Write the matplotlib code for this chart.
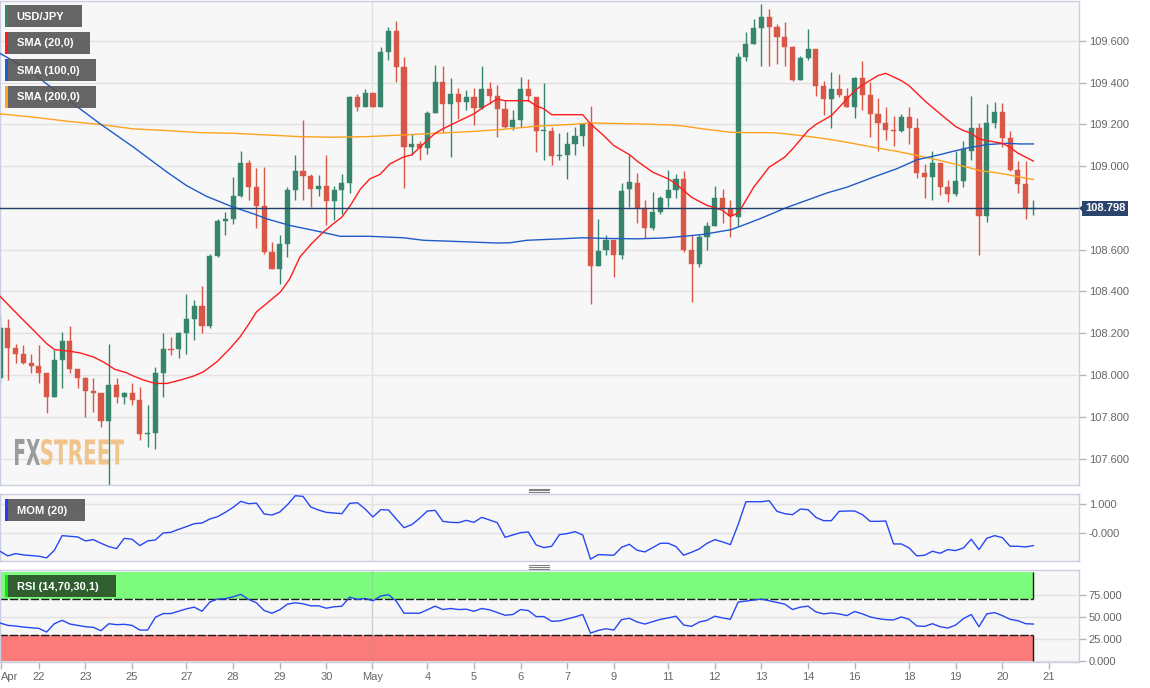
import matplotlib
matplotlib.use("Agg")
import matplotlib.pyplot as plt
import numpy as np
from matplotlib.patches import Rectangle, PathPatch, Polygon
from matplotlib.textpath import TextPath
from matplotlib.font_manager import FontProperties
from matplotlib.transforms import Affine2D, IdentityTransform, blended_transform_factory
from matplotlib.lines import Line2D

plt.rcParams['font.family'] = ['Liberation Sans', 'DejaVu Sans']

# ---------------- data (4h candles USD/JPY) ----------------
opens = [107.984,108.223,108.130,108.100,108.060,108.044,108.008,107.896,108.074,108.164,
         108.031,107.988,107.925,107.915,107.781,107.952,107.896,107.915,107.883,107.718,
         107.721,108.011,108.127,108.127,108.199,108.270,108.329,108.234,108.568,108.737,
         108.748,108.859,109.016,108.899,108.808,108.589,108.509,108.629,108.887,108.976,
         108.952,108.890,108.906,108.831,108.887,108.918,109.329,109.285,109.352,109.285,
         109.544,109.648,109.473,109.090,109.106,109.087,109.254,109.404,109.297,109.345,
         109.305,109.329,109.278,109.367,109.334,109.274,109.189,109.221,109.369,109.329,
         109.167,109.170,109.046,109.054,109.106,109.145,109.202,108.522,108.597,108.645,
         108.573,108.891,108.920,108.801,108.705,108.778,108.848,108.887,108.936,108.597,
         108.533,108.660,108.715,108.848,108.796,108.756,109.524,109.584,109.660,109.715,
         109.667,109.616,109.571,109.412,109.517,109.560,109.385,109.321,109.369,109.337,
         109.285,109.420,109.342,109.250,109.205,109.173,109.167,109.237,109.183,108.966,
         108.947,109.014,108.902,108.867,108.928,109.074,109.183,108.759,109.207,109.261,
         109.135,108.982,108.915,108.796]
highs = [108.286,108.266,108.148,108.143,108.103,108.143,108.008,108.119,108.207,108.234,
         108.031,107.992,107.984,107.915,108.148,107.984,107.920,107.960,107.944,107.856,
         108.039,108.199,108.183,108.207,108.387,108.358,108.425,108.578,108.748,108.780,
         108.947,109.071,109.027,108.992,108.998,108.637,108.668,108.899,109.051,109.221,
         108.960,108.955,109.054,108.907,108.960,109.337,109.345,109.369,109.352,109.568,
         109.667,109.692,109.520,109.154,109.119,109.266,109.485,109.477,109.422,109.374,
         109.364,109.374,109.479,109.404,109.388,109.317,109.269,109.425,109.415,109.329,
         109.398,109.189,109.157,109.162,109.186,109.207,109.288,108.748,108.672,108.645,
         108.918,109.055,108.966,108.836,108.875,108.859,108.982,108.960,108.976,108.668,
         108.668,108.732,108.907,108.891,108.836,109.539,109.640,109.703,109.778,109.751,
         109.680,109.688,109.576,109.528,109.656,109.560,109.409,109.449,109.441,109.374,
         109.425,109.504,109.401,109.326,109.285,109.242,109.250,109.285,109.231,109.011,
         109.074,109.014,108.934,109.074,109.122,109.337,109.207,109.297,109.309,109.301,
         109.170,109.024,109.024,108.836]
lows = [107.960,107.976,108.060,108.055,108.012,107.960,107.817,107.896,107.936,108.008,
        107.936,107.801,107.824,107.753,107.474,107.864,107.861,107.856,107.689,107.657,
        107.645,107.896,108.095,108.084,108.103,108.167,108.202,108.223,108.565,108.668,
        108.724,108.851,108.839,108.705,108.578,108.509,108.438,108.565,108.836,108.839,
        108.804,108.859,108.716,108.740,108.772,108.871,109.266,109.285,109.281,109.285,
        109.508,109.401,108.896,109.051,109.030,109.058,109.254,109.157,109.043,109.226,
        109.269,109.199,109.274,109.297,109.141,109.181,109.173,109.186,109.313,109.066,
        109.030,109.003,109.027,108.939,109.051,109.094,108.339,108.520,108.573,108.469,
        108.557,108.804,108.727,108.657,108.692,108.772,108.804,108.848,108.589,108.350,
        108.517,108.597,108.711,108.727,108.660,108.713,109.504,109.584,109.481,109.481,
        109.488,109.481,109.409,109.412,109.508,109.337,109.245,109.183,109.332,109.281,
        109.231,109.269,109.141,109.074,109.125,109.098,109.162,109.106,108.944,108.848,
        108.836,108.864,108.828,108.859,108.902,109.027,108.573,108.732,109.183,109.090,
        108.976,108.871,108.748,108.764]
closes = [108.223,108.130,108.100,108.060,108.044,108.008,107.896,108.074,108.164,108.031,
          107.988,107.925,107.915,107.781,107.952,107.896,107.915,107.883,107.718,107.724,
          108.011,108.127,108.122,108.199,108.270,108.329,108.234,108.568,108.737,108.748,
          108.859,109.016,108.899,108.808,108.589,108.509,108.629,108.887,108.976,108.952,
          108.890,108.906,108.831,108.887,108.918,109.329,109.285,109.352,109.285,109.544,
          109.648,109.473,109.090,109.106,109.087,109.254,109.404,109.297,109.345,109.305,
          109.329,109.278,109.367,109.334,109.274,109.189,109.221,109.369,109.334,109.167,
          109.173,109.046,109.051,109.106,109.145,109.202,108.522,108.594,108.645,108.573,
          108.883,108.923,108.801,108.705,108.778,108.848,108.887,108.936,108.597,108.533,
          108.660,108.715,108.848,108.801,108.759,109.520,109.584,109.660,109.715,109.667,
          109.616,109.571,109.412,109.517,109.560,109.385,109.321,109.369,109.342,109.281,
          109.420,109.342,109.250,109.205,109.173,109.168,109.237,109.183,108.966,108.947,
          109.014,108.902,108.867,108.928,109.082,109.183,108.759,109.207,109.261,109.135,
          108.982,108.915,108.796,108.798]

sma20_x = [0, 2.6, 4.3, 6.0, 7.0, 9.0, 10.3, 12.0, 13.3, 14.8,
           16.3, 17.2, 18.5, 20.0, 21.5, 23.2, 24.9, 26.2, 27.9, 29.6,
           30.9, 32.0, 33.0, 34.3, 36.1, 37.3, 38.6, 40.1, 41.6, 42.9,
           44.0, 45.1, 46.4, 47.6, 48.9, 50.2, 51.9, 53.0, 54.5, 56.0,
           57.0, 58.3, 60.1, 61.0, 62.2, 64.0, 65.0, 66.9, 68.0, 69.0,
           70.0, 71.0, 73.4, 75.0, 76.0, 77.7, 79.0, 81.0, 82.0, 84.0,
           86.0, 87.0, 88.0, 89.0, 90.0, 91.0, 92.0, 93.0, 94.0, 95.0,
           96.0, 97.0, 99.0, 101.0, 102.0, 104.0, 105.0, 107.0, 108.0, 110.0,
           111.0, 113.0, 114.0, 116.0, 117.0, 119.0, 121.0, 123.0, 124.0, 125.0,
           126.0, 127.0, 129.0, 130.0, 131.0, 132.0, 133.0]
sma20_y = [108.377, 108.278, 108.215, 108.151, 108.122, 108.114, 108.106, 108.087, 108.063, 108.027,
           108.011, 107.995, 107.976, 107.960, 107.960, 107.976, 107.995, 108.016, 108.063, 108.127,
           108.183, 108.243, 108.302, 108.342, 108.398, 108.461, 108.565, 108.629, 108.684, 108.724,
           108.756, 108.812, 108.891, 108.939, 108.960, 109.011, 109.043, 109.054, 109.106, 109.157,
           109.178, 109.202, 109.234, 109.250, 109.281, 109.321, 109.313, 109.313, 109.313, 109.289,
           109.274, 109.246, 109.246, 109.246, 109.202, 109.146, 109.098, 109.055, 109.024, 108.971,
           108.939, 108.915, 108.883, 108.851, 108.831, 108.812, 108.801, 108.788, 108.759, 108.775,
           108.836, 108.899, 108.995, 109.043, 109.082, 109.170, 109.199, 109.242, 109.281, 109.361,
           109.388, 109.433, 109.444, 109.409, 109.385, 109.313, 109.250, 109.189, 109.170, 109.157,
           109.130, 109.122, 109.109, 109.090, 109.062, 109.043, 109.024]

sma100_x = [0, 1.7, 4.3, 8.6, 12.9, 17.2, 21.5, 24.0, 26.6, 30.0,
            32.6, 34.3, 37.3, 40.8, 43.8, 47.6, 51.9, 54.5, 58.3, 63.9,
            65.6, 67.8, 71.6, 75.0, 77.7, 82.0, 85.4, 88.0, 90.5, 93.0,
            94.0, 95.2, 97.8, 101.2, 103.8, 106.4, 109.0, 112.4, 115.4, 118.0,
            121.0, 122.7, 124.4, 127.0, 129.6, 131.3, 133.0]
sma100_y = [109.539, 109.504, 109.441, 109.321, 109.202, 109.090, 108.971, 108.907, 108.855, 108.804,
            108.772, 108.748, 108.716, 108.689, 108.664, 108.664, 108.657, 108.645, 108.640, 108.632,
            108.633, 108.645, 108.651, 108.657, 108.654, 108.652, 108.656, 108.664, 108.673, 108.689,
            108.695, 108.711, 108.748, 108.801, 108.836, 108.871, 108.899, 108.947, 108.987, 109.030,
            109.055, 109.071, 109.086, 109.103, 109.109, 109.106, 109.106]

sma200_x = [0, 4.3, 8.6, 12.9, 17.2, 21.5, 25.8, 30.0, 34.3, 38.6,
            42.9, 47.2, 51.9, 56.2, 60.5, 64.8, 69.1, 73.4, 76.0, 77.7,
            82.0, 86.2, 87.9, 90.5, 94.0, 96.5, 99.5, 101.2, 103.8, 106.4,
            109.0, 112.4, 115.4, 118.0, 121.0, 123.6, 126.1, 129.1, 131.3, 133.0]
sma200_y = [109.250, 109.234, 109.215, 109.199, 109.178, 109.170, 109.160, 109.157, 109.149, 109.141,
            109.138, 109.141, 109.149, 109.157, 109.165, 109.176, 109.191, 109.199, 109.207, 109.205,
            109.202, 109.197, 109.192, 109.178, 109.162, 109.160, 109.160, 109.154, 109.143, 109.130,
            109.114, 109.090, 109.071, 109.051, 109.027, 109.003, 108.979, 108.963, 108.947, 108.936]

mom = [-0.607,-0.764,-0.685,-0.730,-0.753,-0.775,-0.831,-0.573,-0.079,-0.101,
       -0.124,-0.258,-0.213,-0.337,-0.449,-0.517,-0.169,-0.202,-0.416,-0.258,
       -0.225,0.011,0.034,0.135,0.225,0.326,0.348,0.483,0.562,0.708,
       0.876,1.079,1.000,1.022,0.652,0.618,0.719,0.966,1.270,1.247,
       0.888,0.787,0.708,0.685,0.663,1.011,1.034,
       0.820,0.551,0.798,0.787,0.483,0.191,0.292,0.506,0.753,0.775,
       0.404,0.371,0.360,0.438,0.371,0.539,0.449,0.360,-0.135,-0.056,
       0.022,0.045,-0.393,-0.483,-0.438,-0.045,-0.011,0.056,-0.056,-0.876,
       -0.719,-0.730,-0.742,-0.472,-0.371,-0.573,-0.629,-0.483,-0.337,-0.337,
       -0.449,-0.742,-0.640,-0.528,-0.337,-0.213,
       -0.292,-0.382,0.292,1.067,1.067,1.067,1.101,0.742,0.663,0.629,
       0.820,0.798,0.539,0.427,0.427,0.742,0.753,0.753,0.629,0.404,
       0.404,0.416,-0.360,-0.360,-0.494,-0.764,-0.742,-0.607,-0.674,-0.551,
       -0.584,-0.494,-0.202,-0.551,-0.169,-0.079,-0.146,-0.438,-0.438,-0.461,
       -0.416]

rsi = [43.2,40.5,39.8,38.6,37.9,37.1,33.0,42.4,46.2,42.0,
       40.5,39.0,38.3,34.5,42.4,41.3,41.7,40.5,35.2,35.2,
       49.6,53.8,53.8,56.4,59.1,61.0,56.4,66.7,70.1,70.5,
       72.7,75.4,69.7,65.9,57.2,54.2,58.0,64.4,65.9,64.8,
       62.5,62.5,59.8,61.4,62.1,72.3,69.7,
       70.8,68.2,73.5,75.0,67.8,54.2,54.2,54.2,58.0,62.1,
       58.3,59.5,58.3,58.7,56.4,59.5,58.0,54.9,51.9,52.7,
       58.3,57.2,50.4,50.4,45.1,45.5,47.7,50.0,52.7,31.8,
       34.8,36.7,35.2,47.0,48.5,44.3,42.0,44.7,47.3,48.9,
       50.8,40.9,39.4,44.3,46.2,50.8,
       48.9,47.3,66.7,67.8,68.9,70.1,68.2,66.3,64.4,58.3,
       61.0,62.1,55.7,53.4,54.5,53.4,51.5,56.1,53.4,50.0,
       48.1,47.0,46.6,50.0,47.3,39.8,39.4,42.4,39.0,37.5,
       40.9,48.1,52.7,39.0,53.4,54.9,51.5,47.3,45.8,42.4,
       42.0]

tick_pos = [0.13, 5.0, 11.0, 17.0, 24.0, 30.0, 36.0, 42.0, 47.9, 55.0, 61.0, 67.0,
            73.0, 79.0, 86.0, 92.0, 98.0, 104.0, 110.0, 117.0, 123.0, 129.0, 135.0]
tick_labels = ['Apr', '22', '23', '25', '27', '28', '29', '30', 'May', '4', '5', '6',
               '7', '9', '11', '12', '13', '14', '16', '18', '19', '20', '21']
month_start = 47.9

price_ticks = [107.6, 107.8, 108.0, 108.2, 108.4, 108.6, 108.8, 109.0, 109.2, 109.4, 109.6]
mom_ticks = [0.0, 1.0]
rsi_ticks = [0, 25, 50, 75]

# ---------------- figure ----------------
W, H = 1150, 688
fig = plt.figure(figsize=(W / 100, H / 100), dpi=100, facecolor='white')

GREEN = '#37856c'
RED = '#d95746'
BG = '#f7f7f7'
SPINE = '#c9cfe1'
GRID = '#e2e2e2'
XMAX = 138.87


def fax(x0, y0, x1, y1):
    return fig.add_axes([x0 / W, 1 - y1 / H, (x1 - x0) / W, (y1 - y0) / H])


def style(a):
    a.set_facecolor(BG)
    for s in a.spines.values():
        s.set_color(SPINE)
        s.set_linewidth(1)
    a.set_xlim(0, XMAX)
    a.yaxis.tick_right()
    a.tick_params(axis='y', length=5, width=1, color='#b5b5b5', labelcolor='#666666',
                  labelsize=8, pad=2)
    a.tick_params(axis='x', bottom=False, labelbottom=False)
    a.axvline(month_start, color=GRID, lw=1, zorder=0.6)


ax = fax(0, 1, 1079, 485)
axm = fax(0, 494, 1079, 561)
axr = fax(0, 570, 1079, 662)
for a in (ax, axm, axr):
    style(a)

# ---- main price panel ----
o = np.array(opens); h = np.array(highs); l = np.array(lows); c = np.array(closes)
n = len(o)
xs = np.arange(n)
up = c >= o
cols = np.where(up, GREEN, RED)
hi = np.maximum(h, np.maximum(o, c))
lo = np.minimum(l, np.minimum(o, c))
ax.vlines(xs, lo, hi, colors=cols, lw=1.0, zorder=2)
body_bot = np.minimum(o, c)
body_h = np.maximum(np.abs(c - o), 0.005)
ax.bar(xs, body_h, bottom=body_bot, width=0.66, color=cols, edgecolor=cols, lw=0.3, zorder=2.2)

ax.plot(sma200_x, sma200_y, color='#ffa21f', lw=1.0, zorder=3)
ax.plot(sma100_x, sma100_y, color='#1f5bc6', lw=1.0, zorder=3)
ax.plot(sma20_x, sma20_y, color='#ff1c1c', lw=1.0, zorder=3.1)

ax.set_ylim(107.474, 109.79)
for t in price_ticks:
    ax.axhline(t, color=GRID, lw=1, zorder=0.5)
last = closes[-1]
shown = [t for t in price_ticks if abs(t - last) > 0.05]
ax.set_yticks(shown)
ax.set_yticklabels([f'{t:.3f}' for t in shown])
ax.axhline(last, color='#22416b', lw=1, zorder=3.5)

tr = blended_transform_factory(ax.transAxes, ax.transData)
ax.text(1 + 6 / 1079, last, f'{last:.3f}', transform=tr, ha='left', va='center',
        color='white', fontsize=8, fontweight='bold', clip_on=False, zorder=10,
        bbox=dict(boxstyle='square,pad=0.25', fc='#2b456d', ec='none'))
yd = ax.transData.transform((0, last))[1]
fig.add_artist(Polygon([(1079, yd), (1083.5, yd + 4), (1083.5, yd - 4)], closed=True,
                       transform=IdentityTransform(), fc='#2b456d', ec='none', zorder=30))

# watermark
def stretched(s, x0, x1, ytop, ybot, color):
    tp = TextPath((0, 0), s, size=100, prop=FontProperties(family='DejaVu Sans', weight='bold'))
    bb = tp.get_extents()
    t = (Affine2D().translate(-bb.x0, -bb.y0)
         .scale((x1 - x0) / bb.width, (ybot - ytop) / bb.height)
         .translate(x0, H - ybot))
    p = PathPatch(tp, transform=t, fc=color, ec='none', zorder=0.8)
    ax.add_artist(p)

stretched('FX', 15, 40, 439, 465, '#9b9b9b')
stretched('STREET', 41, 124, 439, 465, '#f1c48c')

# ---- momentum panel ----
axm.set_ylim(-0.936, 1.328)
for t in mom_ticks:
    axm.axhline(t, color=GRID, lw=1, zorder=0.5)
axm.plot(xs, mom, color='#2647f2', lw=1.0, zorder=3)
axm.set_yticks(mom_ticks)
axm.set_yticklabels(['-0.000', '1.000'])

# ---- RSI panel ----
axr.set_ylim(-0.7, 102.8)
for t in rsi_ticks:
    axr.axhline(t, color=GRID, lw=1, zorder=0.5)
axr.add_patch(Rectangle((-1, 70), n, 30, fc='#7cfb7c', ec='none', zorder=1))
axr.add_patch(Rectangle((-1, 0), n, 30, fc='#fb7b7b', ec='none', zorder=1))
axr.hlines([70, 30], -1, n - 1, colors='#1a1a1a', lw=1, linestyles=(0, (6, 1.5)), zorder=1.5)
axr.vlines([n - 1, n - 1], [70, 0], [100, 30], colors='#1a1a1a', lw=1, zorder=1.5)
axr.axvline(month_start, color='#999999', lw=1, alpha=0.25, zorder=1.6)
axr.plot(xs, rsi, color='#2647f2', lw=1.0, zorder=3)
axr.set_yticks(rsi_ticks)
axr.set_yticklabels([f'{t:.3f}' for t in rsi_ticks])
axr.set_xticks(tick_pos)
axr.set_xticklabels(tick_labels)
axr.tick_params(axis='x', bottom=True, labelbottom=True, length=5, width=1, color='#b5b5b5',
                labelcolor='#666666', labelsize=8, pad=2)
axr.get_xticklabels()[0].set_horizontalalignment('left')

# ---- labels (legend boxes) ----
def label_box(x0, y0, x1, y1, stripe, text, fc='#555555', alpha=0.9):
    fig.add_artist(Rectangle((x0, H - y1), x1 - x0, y1 - y0, transform=IdentityTransform(),
                             fc=fc, alpha=alpha, ec='none', zorder=20))
    fig.add_artist(Rectangle((x0, H - y1), 2.5, y1 - y0, transform=IdentityTransform(),
                             fc=stripe, ec='none', zorder=21))
    fig.text((x0 + 11.7) / W, 1 - ((y0 + y1) / 2 + 0.5) / H, text, color='white', fontsize=8,
             fontweight='bold', va='center', ha='left', zorder=22)

label_box(5, 5, 82, 27, GREEN, 'USD/JPY')
label_box(5, 32, 90, 54, '#ff1c1c', 'SMA (20,0)')
label_box(5, 59, 96, 81, '#1f5bc6', 'SMA (100,0)')
label_box(5, 86, 96, 108, '#ffa21f', 'SMA (200,0)')
label_box(5, 499, 85, 521, '#1f3cff', 'MOM (20)')
label_box(5, 575, 116, 597, '#11e011', 'RSI (14,70,30,1)', fc='#2f5f2f', alpha=1.0)

# panel resize handles
for yy in (488.5, 490.3, 492.0, 565.0, 566.8, 568.5):
    fig.add_artist(Line2D([529, 549], [H - yy, H - yy], transform=IdentityTransform(),
                          color='#808080', lw=0.8, zorder=25))

fig.savefig('out.png', dpi=100, facecolor='white')
